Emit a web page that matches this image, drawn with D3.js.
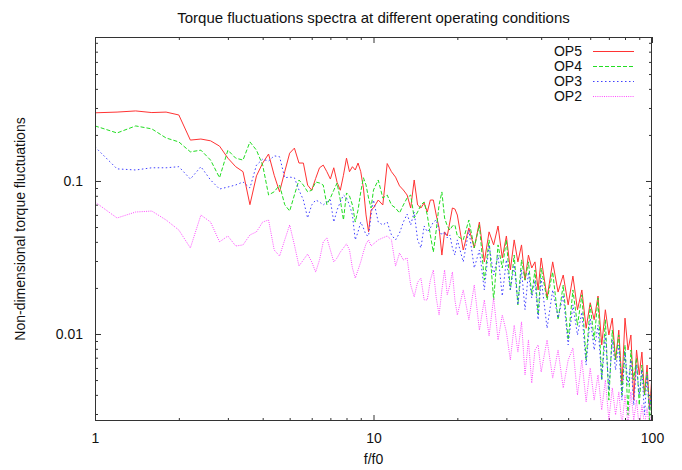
<!DOCTYPE html>
<html>
<head>
<meta charset="utf-8">
<script src="https://cdn.jsdelivr.net/npm/d3@7"></script>
<style>
  body { margin: 0; background: #fff; }
  svg text { font-family: "Liberation Sans", Arial, sans-serif; fill: #111; }
</style>
</head>
<body>
<div id="chart"></div>
<script>
// frequency grid (f/f0)
var freq = [1, 1.2, 1.4, 1.6, 1.8, 2, 2.2, 2.4, 2.6, 2.8, 3, 3.2, 3.4, 3.6, 3.8, 4, 4.2, 4.4, 4.6, 4.8, 5,
    5.2, 5.4, 5.6, 5.8, 6, 6.2, 6.4, 6.6, 6.8, 7, 7.2, 7.4, 7.6, 7.8, 8, 8.2, 8.4, 8.6, 8.8, 9, 9.2, 9.4, 9.6, 9.8, 10,
    10.4, 10.8, 11.2, 11.6, 12, 12.4, 12.8, 13.2, 13.6, 14, 14.4, 14.8, 15.2, 15.6, 16, 16.4, 16.8, 17.2, 17.6, 18, 18.4, 18.8, 19.2, 19.6, 20,
    21, 22, 23, 24, 25, 26, 27, 28, 29, 30, 31, 32, 33, 34, 35, 36, 37, 38, 39, 40,
    42, 44, 46, 48, 50, 52, 54, 56, 58, 60, 62, 64, 66, 68, 70, 72, 74, 76, 78, 80, 82, 84, 86, 88, 90, 92, 94, 96, 98, 100];

var op5 = [0.279, 0.282, 0.287, 0.280, 0.282, 0.270, 0.185, 0.188, 0.183, 0.169, 0.141, 0.124, 0.115, 0.070, 0.108, 0.131, 0.150, 0.109, 0.085, 0.115, 0.152,
    0.164, 0.131, 0.131, 0.094, 0.087, 0.104, 0.122, 0.127, 0.115, 0.103, 0.122, 0.098, 0.087, 0.109, 0.141, 0.115, 0.124, 0.118, 0.131, 0.115, 0.090, 0.060, 0.0465, 0.0646, 0.0666,
    0.0751, 0.0697, 0.130, 0.115, 0.106, 0.0929, 0.0873, 0.0810, 0.0666, 0.1015, 0.0697, 0.0666, 0.0718, 0.0627, 0.0751, 0.0751, 0.0599, 0.0493, 0.0328, 0.0465, 0.0437, 0.0539, 0.0666, 0.0656, 0.0599,
    0.0354, 0.0493, 0.0365, 0.0539, 0.0296, 0.0465, 0.0382, 0.0508, 0.0314, 0.0437, 0.0262, 0.0412, 0.0296, 0.0382, 0.0225, 0.0328, 0.0270, 0.0296, 0.0194, 0.0314,
    0.0172, 0.0296, 0.0188, 0.0243, 0.0155, 0.0239, 0.0144, 0.0194, 0.0109, 0.0160, 0.0124, 0.0177, 0.00848, 0.0144, 0.00985, 0.0127, 0.00676, 0.0106, 0.00464, 0.0127, 0.00786, 0.00985, 0.00370, 0.00786, 0.00540, 0.00762, 0.00399, 0.00627, 0.00319, 0.00540];

var op4 = [0.229, 0.206, 0.229, 0.219, 0.191, 0.180, 0.155, 0.159, 0.137, 0.105, 0.159, 0.141, 0.137, 0.180, 0.159, 0.127, 0.081, 0.085, 0.094, 0.070, 0.0636,
    0.081, 0.1015, 0.094, 0.085, 0.087, 0.0985, 0.097, 0.094, 0.070, 0.0774, 0.087, 0.097, 0.0751, 0.0556, 0.0835, 0.0798, 0.0697, 0.0539, 0.0646, 0.0848, 0.105, 0.0942, 0.0774, 0.0666, 0.0873,
    0.1015, 0.0774, 0.0810, 0.0697, 0.0666, 0.0618, 0.0697, 0.0774, 0.0810, 0.0573, 0.0627, 0.0697, 0.0729, 0.0599, 0.0444, 0.0343, 0.0478, 0.0697, 0.0848, 0.0573, 0.0508, 0.0478, 0.0508, 0.0516, 0.0437,
    0.0412, 0.0556, 0.0365, 0.0516, 0.0225, 0.0412, 0.0167, 0.0382, 0.0270, 0.0412, 0.0194, 0.0328, 0.0155, 0.0305, 0.0225, 0.0296, 0.0180, 0.0262, 0.0133, 0.0270,
    0.0167, 0.0254, 0.0124, 0.0209, 0.00914, 0.0194, 0.0114, 0.0180, 0.00676, 0.0155, 0.00914, 0.0172, 0.00500, 0.0124, 0.00370, 0.0106, 0.00676, 0.00985, 0.00399, 0.00848, 0.00296, 0.00786, 0.00500, 0.00697, 0.00343, 0.00627, 0.00399, 0.00565, 0.00274, 0.00500];

var op3 = [0.167, 0.120, 0.118, 0.122, 0.122, 0.124, 0.103, 0.124, 0.1015, 0.0886, 0.0913, 0.0942, 0.0985, 0.090, 0.127, 0.139, 0.135, 0.146, 0.144, 0.105, 0.106,
    0.105, 0.0873, 0.0751, 0.0573, 0.0697, 0.0751, 0.0729, 0.0697, 0.0729, 0.0751, 0.0539, 0.0646, 0.0729, 0.0810, 0.0774, 0.0697, 0.0599, 0.0412, 0.0465, 0.0539, 0.0493, 0.0444, 0.0437, 0.0599, 0.0751,
    0.0539, 0.0516, 0.0539, 0.0444, 0.0412, 0.0457, 0.0539, 0.0608, 0.0516, 0.0627, 0.0412, 0.0365, 0.0508, 0.0465, 0.0493, 0.0539, 0.0556, 0.0478, 0.0444, 0.0465, 0.0425, 0.0444, 0.0365, 0.0328, 0.0412,
    0.0296, 0.0478, 0.0270, 0.0354, 0.0194, 0.0382, 0.0243, 0.0328, 0.0177, 0.0305, 0.0194, 0.0282, 0.0155, 0.0262, 0.0144, 0.0254, 0.0172, 0.0225, 0.0124, 0.0232,
    0.0109, 0.0194, 0.0127, 0.0180, 0.00848, 0.0155, 0.00985, 0.0139, 0.00627, 0.0127, 0.00786, 0.0114, 0.00500, 0.00985, 0.00431, 0.00914, 0.00582, 0.00848, 0.00370, 0.00762, 0.00464, 0.00676, 0.00343, 0.00627, 0.00399, 0.00582, 0.00296, 0.00540, 0.00319, 0.00464];

var op2 = [0.0729, 0.0573, 0.0627, 0.0636, 0.0556, 0.0478, 0.0365, 0.0599, 0.0539, 0.0400, 0.0437, 0.0376, 0.0382, 0.0444, 0.0465, 0.0539, 0.0556, 0.0354, 0.0323, 0.0412, 0.0516,
    0.0382, 0.0278, 0.0305, 0.0333, 0.0296, 0.0254, 0.0305, 0.0400, 0.0425, 0.0354, 0.0296, 0.0314, 0.0343, 0.0365, 0.0388, 0.0354, 0.0270, 0.0232, 0.0262, 0.0296, 0.0343, 0.0388, 0.0412, 0.0376, 0.0388,
    0.0412, 0.0425, 0.0437, 0.0412, 0.0278, 0.0338, 0.0305, 0.0314, 0.0209, 0.0175, 0.0218, 0.0232, 0.0167, 0.0167, 0.0225, 0.0262, 0.0172, 0.0133, 0.0194, 0.0262, 0.0180, 0.0209, 0.0254, 0.0167, 0.0133,
    0.0194, 0.0124, 0.0209, 0.0106, 0.0167, 0.00970, 0.0172, 0.00914, 0.0133, 0.0103, 0.00676, 0.0114, 0.00762, 0.0120, 0.00540, 0.00914, 0.00478, 0.00786, 0.00848, 0.00565,
    0.00914, 0.00515, 0.00786, 0.00444, 0.00676, 0.00810, 0.00399, 0.00676, 0.00360, 0.00600, 0.00370, 0.00540, 0.00319, 0.00500, 0.00274, 0.00444, 0.00296, 0.00418, 0.00254, 0.00399, 0.00254, 0.00418, 0.00274, 0.00370, 0.00243, 0.00343, 0.00254, 0.00329, 0.00243, 0.00319];

var seriesNames = ["OP5", "OP4", "OP3", "OP2"];
var xMajor = [1, 10, 100];
var yMajor = [0.01, 0.1];

var width = 682, height = 470;
// note: "top" is reserved on window, so use plot* names
var plotLeft = 95, plotRight = 652, plotTop = 37, plotBottom = 421;

var series = [
    { name: seriesNames[0], values: op5, color: "#ff3333", dash: null },
    { name: seriesNames[1], values: op4, color: "#22dd22", dash: "4,2" },
    { name: seriesNames[2], values: op3, color: "#4040ff", dash: "1.5,2.5" },
    { name: seriesNames[3], values: op2, color: "#ff4cff", dash: "1,1.2" }
];

var x = d3.scaleLog().domain([1, 100]).range([plotLeft, plotRight]);
var y = d3.scaleLog().domain([0.0027, 0.873]).range([plotBottom, plotTop]);

var svg = d3.select("#chart").append("svg")
    .attr("width", width)
    .attr("height", height);

svg.append("defs").append("clipPath")
    .attr("id", "plot-clip")
    .append("rect")
    .attr("x", plotLeft).attr("y", plotTop)
    .attr("width", plotRight - plotLeft).attr("height", plotBottom - plotTop);

// minor ticks: 2..9 times each decade
var xMinor = [];
[1, 10].forEach(function (d) { for (var k = 2; k <= 9; k++) xMinor.push(d * k); });
var yMinor = [];
[0.001, 0.01, 0.1].forEach(function (d) {
    for (var k = 2; k <= 9; k++) {
        var v = d * k;
        if (v > y.domain()[0] && v < y.domain()[1]) yMinor.push(v);
    }
});

function styleAxis(g) {
    g.select(".domain").remove();
    g.selectAll("line").attr("stroke", "#333");
    g.selectAll("text").attr("font-size", 14).attr("font-family", "Liberation Sans, Arial, sans-serif").attr("fill", "#111");
}

// bottom & top (mirrored) x ticks, pointing inward
svg.append("g").attr("transform", `translate(0,${plotBottom})`)
    .call(d3.axisBottom(x).tickValues(xMinor).tickSize(-3).tickSizeOuter(0).tickFormat(""))
    .call(styleAxis);
svg.append("g").attr("transform", `translate(0,${plotBottom})`)
    .call(d3.axisBottom(x).tickValues(xMajor).tickSize(-6).tickSizeOuter(0).tickPadding(12).tickFormat(d3.format("d")))
    .call(styleAxis);
svg.append("g").attr("transform", `translate(0,${plotTop})`)
    .call(d3.axisTop(x).tickValues(xMinor).tickSize(-3).tickSizeOuter(0).tickFormat(""))
    .call(styleAxis);
svg.append("g").attr("transform", `translate(0,${plotTop})`)
    .call(d3.axisTop(x).tickValues(xMajor).tickSize(-6).tickSizeOuter(0).tickFormat(""))
    .call(styleAxis);

// left & right y ticks
svg.append("g").attr("transform", `translate(${plotLeft},0)`)
    .call(d3.axisLeft(y).tickValues(yMinor).tickSize(-3).tickSizeOuter(0).tickFormat(""))
    .call(styleAxis);
svg.append("g").attr("transform", `translate(${plotLeft},0)`)
    .call(d3.axisLeft(y).tickValues(yMajor).tickSize(-6).tickSizeOuter(0).tickPadding(12).tickFormat(d => d === 0.1 ? "0.1" : "0.01"))
    .call(styleAxis);
svg.append("g").attr("transform", `translate(${plotRight},0)`)
    .call(d3.axisRight(y).tickValues(yMinor).tickSize(-3).tickSizeOuter(0).tickFormat(""))
    .call(styleAxis);
svg.append("g").attr("transform", `translate(${plotRight},0)`)
    .call(d3.axisRight(y).tickValues(yMajor).tickSize(-6).tickSizeOuter(0).tickFormat(""))
    .call(styleAxis);

// series lines, drawn in legend order (OP2 ends on top)
var line = d3.line()
    .x((d, i) => x(freq[i]))
    .y(d => y(d));

svg.append("g")
    .attr("clip-path", "url(#plot-clip)")
    .selectAll("path")
    .data(series)
    .join("path")
    .attr("fill", "none")
    .attr("stroke", d => d.color)
    .attr("stroke-width", 1)
    .attr("stroke-dasharray", d => d.dash)
    .attr("stroke-linejoin", "round")
    .attr("d", d => line(d.values));

// frame
svg.append("rect")
    .attr("x", plotLeft + 0.5).attr("y", plotTop + 0.5)
    .attr("width", plotRight - plotLeft - 1).attr("height", plotBottom - plotTop - 1)
    .attr("fill", "none")
    .attr("stroke", "#333")
    .attr("stroke-width", 1);

// legend
var legend = svg.append("g").attr("transform", "translate(582,51)");
var rows = legend.selectAll("g")
    .data(series)
    .join("g")
    .attr("transform", (d, i) => `translate(0,${i * 15})`);
rows.append("text")
    .attr("text-anchor", "end")
    .attr("dy", "0.36em")
    .attr("font-size", 14)
    .text(d => d.name);
rows.append("line")
    .attr("x1", 11).attr("x2", 52)
    .attr("y1", 0.5).attr("y2", 0.5)
    .attr("stroke", d => d.color)
    .attr("stroke-width", 1)
    .attr("stroke-dasharray", d => d.dash);

// title and axis labels
svg.append("text")
    .attr("x", (plotLeft + plotRight) / 2)
    .attr("y", 23)
    .attr("text-anchor", "middle")
    .attr("font-size", 15)
    .text("Torque fluctuations spectra at different operating conditions");

svg.append("text")
    .attr("x", (plotLeft + plotRight) / 2)
    .attr("y", 464)
    .attr("text-anchor", "middle")
    .attr("font-size", 14)
    .text("f/f0");

svg.append("text")
    .attr("transform", `translate(25,${(plotTop + plotBottom) / 2}) rotate(-90)`)
    .attr("text-anchor", "middle")
    .attr("font-size", 14)
    .text("Non-dimensional torque fluctuations");
</script>
</body>
</html>
